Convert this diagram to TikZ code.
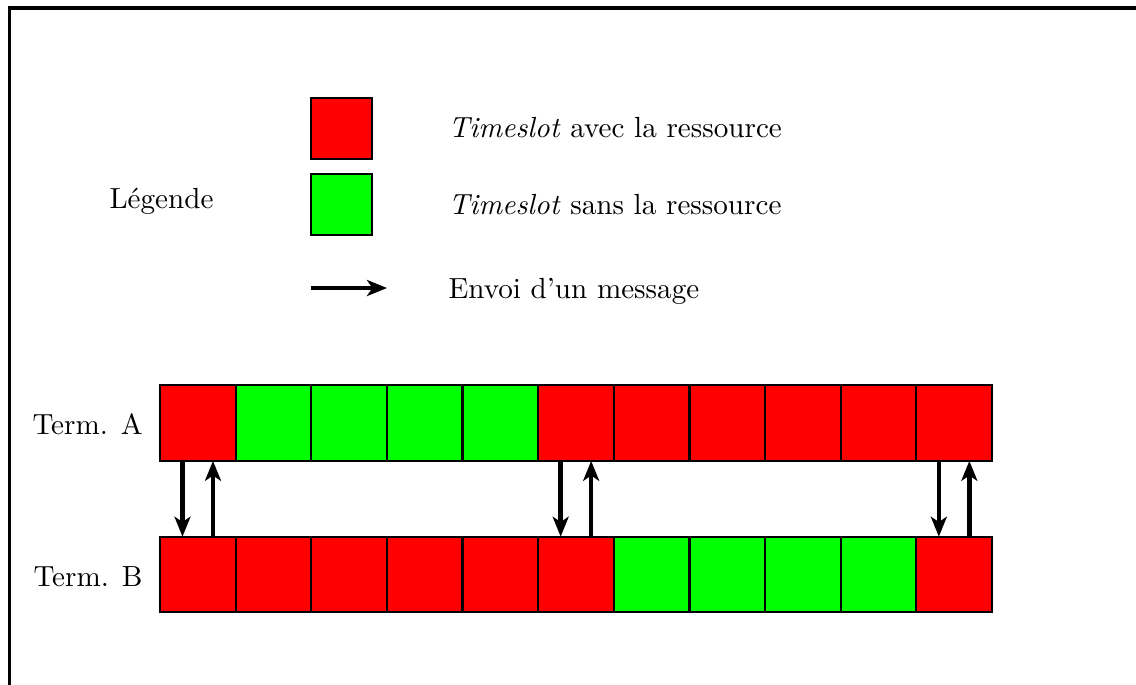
\documentclass[tikz,border=0pt]{standalone}
\usetikzlibrary{arrows.meta,calc}
\begin{document}
\begin{tikzpicture}[x=0.013221cm, y=-0.013221cm,
  every node/.style={font=\fontsize{10.95pt}{13pt}\selectfont},
  cell/.style={draw=black, line width=0.8pt, minimum width=1cm, minimum height=1cm, inner sep=0pt, outer sep=0pt},
  lsq/.style={draw=black, line width=0.9pt, minimum width=0.8cm, minimum height=0.8cm, inner sep=0pt, outer sep=0pt},
  msg/.style={line width=1.7pt, -{Stealth[length=7.5pt,width=6pt,inset=2pt]}},
  lbl/.style={anchor=base west, inner sep=0pt},
  frame/.style={line width=1.2pt}]
\useasboundingbox (0,0) rectangle (1136,684);
\definecolor{cred}{RGB}{255,0,0}
\definecolor{cgreen}{RGB}{0,255,0}
% frame (only left and top visible)
\coordinate (f1) at (9.3,700);
\coordinate (f2) at (9.3,8);
\coordinate (f3) at (1150,8);
\draw[frame] (f1) -- (f2) -- (f3);
% legend
\node[lbl] (leg) at (109,208) {Légende};
\node[lsq, fill=cred] (lr) at (341.5,128.5) {};
\node[lsq, fill=cgreen] (lg) at (341.5,204.5) {};
\coordinate (la1) at (311,288);
\coordinate (la2) at (387,288);
\draw[msg] (la1) -- (la2);
\node[lbl] (t1) at (448,137) {\textit{Timeslot} avec la ressource};
\node[lbl] (t2) at (448,214) {\textit{Timeslot} sans la ressource};
\node[lbl] (t3) at (448,298) {Envoi d'un message};
% rows
\node[lbl] (ta) at (32,434) {Term. A};
\node[lbl] (tb) at (33,586) {Term. B};
\foreach \c [count=\i] in {cred,cgreen,cgreen,cgreen,cgreen,cred,cred,cred,cred,cred,cred}{
  \node[cell, fill=\c] (a\i) at ({160+75.636*(\i-0.5)},423) {};
}
\foreach \c [count=\i] in {cred,cred,cred,cred,cred,cred,cgreen,cgreen,cgreen,cgreen,cred}{
  \node[cell, fill=\c] (b\i) at ({160+75.636*(\i-0.5)},574.5) {};
}
% messages
\foreach \k in {1,6,11}{
  \draw[msg] ($(a\k.south west)+(22.5,0)$) -- ($(b\k.north west)+(22.5,0)$);
  \draw[msg] ($(b\k.north west)+(53,0)$) -- ($(a\k.south west)+(53,0)$);
}
\end{tikzpicture}
\end{document}
